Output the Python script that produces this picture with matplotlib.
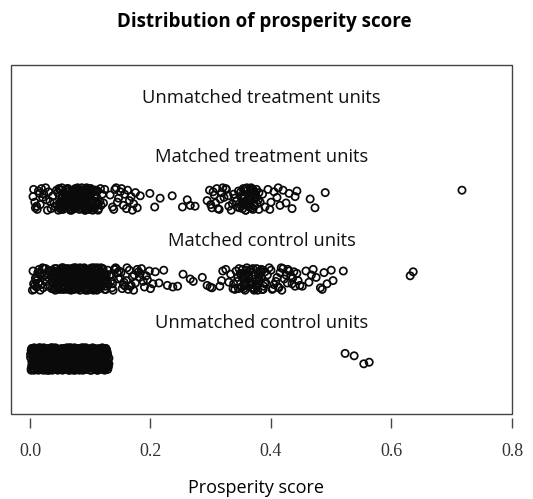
import numpy as np
import matplotlib
matplotlib.use('Agg')
from matplotlib import pyplot as plt
from matplotlib.patches import Rectangle

# ---- data: x in thousandths, vertical jitter in hundredths of a row ----
# row 1: unmatched control units
uc_x = [2, 5, 3, 6, 4, 2, 6, 3, 5,
        9, 7, 11, 8, 10, 12, 7, 9, 11,
        13, 16, 12, 15, 14, 17, 13, 15, 12,
        20, 18, 22, 19, 17, 21, 18, 20, 22,
        24, 22, 26, 23, 25, 27, 22, 24, 26,
        28, 31, 29, 27, 32, 30, 28, 31, 29,
        35, 33, 36, 34, 32, 37, 33, 35, 34,
        38, 41, 39, 37, 40, 42, 38, 40, 41,
        44, 42, 46, 43, 45, 47, 42, 44, 46,
        49, 47, 51, 48, 50, 52, 47, 49, 51,
        53, 56, 54, 52, 55, 57, 53, 55, 56,
        58, 61, 59, 57, 60, 62, 58, 60, 61,
        64, 62, 66, 63, 65, 67, 62, 64, 66,
        68, 71, 69, 67, 70, 72, 68, 70, 71,
        74, 72, 76, 73, 75, 77, 72, 74, 76,
        78, 81, 79, 77, 80, 82, 78, 80, 81,
        84, 82, 86, 83, 85, 87, 82, 84, 86,
        88, 91, 89, 87, 90, 92, 88, 90, 91,
        94, 92, 96, 93, 95, 97, 92, 94, 96,
        98, 101, 99, 97, 100, 102, 98, 100, 101,
        104, 102, 106, 103, 105, 107, 102, 104, 106,
        108, 111, 109, 107, 110, 112, 108, 110, 111,
        114, 112, 116, 113, 115, 117, 112, 114, 116,
        118, 121, 119, 117, 120, 122, 118, 120, 121,
        124, 122, 126, 123, 125, 127, 122, 124, 126,
        128, 131, 129, 127, 130, 126, 128, 131, 129,
        523, 538, 554, 563]
uc_j = [-12, 5, 13, -4, 9, -14, 1, -8, 11,
        7, -13, 2, 12, -6, -1, 14, -10, 4,
        -9, 13, -3, 6, -14, 10, 0, -7, 3,
        11, -5, -12, 3, 14, -9, 8, -1, -14,
        -2, 9, -11, 14, 4, -7, -13, 12, 1,
        6, -14, 10, -4, 13, 0, -9, 3, -12,
        -13, 4, 12, -8, -1, 11, -5, 14, 7,
        2, -10, 8, -14, 13, -3, 10, -7, 5,
        13, -6, -1, 9, -12, 5, 14, -10, -3,
        -8, 11, 3, -13, 7, -4, 12, 0, -11,
        10, -2, -14, 6, 1, 13, -9, -5, 8,
        -4, 14, -10, 2, -12, 9, 5, -7, 12,
        5, -12, 9, -3, 14, -8, 0, 11, -14,
        -11, 7, -6, 13, 3, -14, 10, -1, 6,
        12, -3, 4, -10, -13, 8, 1, 14, -7,
        -6, 10, -13, 0, 11, -9, 6, -4, 13,
        3, -8, 14, -12, 7, -1, -14, 9, -5,
        -14, 12, -4, 8, -9, 4, 13, -11, 1,
        9, -1, -11, 14, -6, 2, 11, -13, -4,
        -3, 13, 6, -9, -14, 10, -7, 4, 12,
        14, -11, 1, 7, -4, -13, 9, -2, 5,
        -10, 3, 11, -6, 12, -14, 0, 8, -8,
        4, -14, -7, 12, -2, 10, -11, 13, 2,
        -13, 8, -1, 5, 14, -5, -10, 11, 0,
        8, -9, 13, -12, 3, 6, -3, -14, 10,
        -5, 1, -13, 11, -10, 13, 7, -6, -1,
        7, 4, -6, -4]
# more units packed inside the solid black block
uc_x2 = [1, 4, 3, 2, 5, 1, 3, 4,
         6, 8, 7, 9, 6, 8, 10, 7,
         11, 13, 12, 14, 11, 13, 10, 12,
         16, 18, 17, 19, 16, 18, 15, 17,
         21, 23, 22, 24, 21, 23, 20, 22,
         26, 28, 27, 29, 26, 28, 25, 27,
         31, 33, 32, 34, 31, 33, 30, 32,
         36, 38, 37, 39, 36, 38, 35, 37,
         41, 43, 42, 44, 41, 43, 40, 42,
         46, 48, 47, 49, 46, 48, 45, 47,
         51, 53, 52, 54, 51, 53, 50, 52,
         56, 58, 57, 59, 56, 58, 55, 57,
         61, 63, 62, 64, 61, 63, 60, 62,
         66, 68, 67, 69, 66, 68, 65, 67,
         71, 73, 72, 74, 71, 73, 70, 72,
         76, 78, 77, 79, 76, 78, 75, 77,
         81, 83, 82, 84, 81, 83, 80, 82,
         86, 88, 87, 89, 86, 88, 85, 87,
         91, 93, 92, 94, 91, 93, 90, 92,
         96, 98, 97, 99, 96, 98, 95, 97,
         101, 103, 102, 104, 101, 103, 100, 102,
         106, 108, 107, 109, 106, 108, 105, 107,
         111, 113, 112, 114, 111, 113, 110, 112,
         116, 118, 117, 119, 116, 118, 115, 117,
         121, 123, 122, 124, 121, 123, 120, 122,
         126, 128, 127, 129, 126, 130, 125, 128]
uc_j2 = [6, -9, -3, 11, -12, 2, 13, -6,
         -4, 10, -14, 5, 12, -8, -1, 8,
         13, -2, 7, -10, 3, -13, 10, -6,
         -11, 6, -5, 12, 0, -8, 14, 3,
         2, -13, 11, -6, 8, -1, -10, 13,
         -7, 13, 0, -12, 5, 10, -3, -14,
         12, -5, -10, 7, -14, 3, 9, -1,
         -2, 8, 14, -11, 1, -6, 12, -9,
         9, -12, 4, -3, 13, -8, 0, 11,
         -14, 5, -7, 12, -2, 9, -11, 2,
         4, -10, 13, -5, -12, 7, 0, 10,
         -9, 2, -13, 11, 6, -4, 13, -7,
         11, -7, 3, -14, 9, 0, -11, 6,
         -5, 14, -9, 1, -13, 10, 4, -2,
         7, -4, 10, -8, 12, -12, -1, 3,
         -12, 9, -2, 13, -6, 5, -14, 11,
         1, -13, 8, -4, 10, -9, 13, -1,
         -8, 6, -12, 14, -3, 11, 2, -10,
         13, -6, 1, -11, 7, -2, -13, 9,
         -1, 12, -9, 4, -12, 8, 6, -5,
         10, -3, -14, 8, 2, -9, 12, -7,
         -6, 11, 5, -12, -1, 13, -8, 3,
         8, -11, 12, -2, -7, 4, -13, 10,
         -10, 2, -6, 13, 9, -12, 5, -3,
         3, -7, 10, -13, 0, 12, -4, 7,
         -12, 9, -3, 5, 12, -8, 1, -10]

# row 2: matched control units
mc_x = [5, 8, 12, 7, 15, 10, 19, 22, 14, 26, 9, 30, 17, 24, 33, 6, 21, 28, 36, 13,
        31, 11, 25, 35, 18, 4, 29, 23, 37, 16,
        39, 43, 41, 45, 38, 44, 40, 42, 46, 39, 44,
        47, 51, 49, 53, 46, 50, 52, 48, 54, 47, 51,
        55, 59, 57, 61, 54, 58, 60, 56, 62, 55, 59,
        63, 67, 65, 69, 62, 66, 68, 64, 70, 63, 68,
        71, 75, 73, 77, 70, 74, 76, 72, 78, 71, 76,
        79, 83, 81, 85, 78, 82, 84, 80, 86, 79, 83,
        87, 91, 89, 93, 86, 90, 92, 88, 94, 87, 91,
        95, 99, 97, 101, 94, 98, 100, 96, 102, 95, 99,
        103, 107, 105, 109, 102, 106, 108, 104, 110, 103, 107,
        111, 115, 113, 117, 110, 114, 116, 112, 118, 111, 115,
        119, 124, 121, 128, 118, 126, 122, 130, 120, 125, 129,
        132, 136, 140, 134, 145, 138, 150, 143, 155, 148, 160, 153, 135, 165, 158,
        170, 142, 175, 163, 180, 147, 168, 185, 173, 190, 156, 178, 195, 183, 200,
        137, 161, 188, 172, 198, 151, 182, 166, 193, 204,
        208, 214, 222, 237, 245, 254, 266, 271, 286, 294, 302, 315, 320, 325, 330,
        333, 337, 228, 299, 318,
        338, 342, 345, 340, 347, 344, 349, 351, 355, 353, 358, 361, 357, 364, 360,
        367, 363, 370, 366, 373, 369, 376, 372, 379, 375, 382, 378, 385, 381, 388,
        384, 391, 387, 394, 390, 397, 352, 368, 380, 359, 374, 386, 346, 356, 365,
        400, 405, 410, 403, 415, 408, 420, 412, 425, 418, 430, 422, 435, 428, 440,
        433, 445, 438, 402, 417, 427, 443, 413, 436, 448,
        452, 458, 463, 470, 475, 482, 488, 493, 500, 503, 467, 485,
        520, 631, 636]
mc_j = [10, -8, 3, -13, 12, -2, 7, -11, -5, 13, 1, -9, -14, 4, 9, -6, 14, -3, -12, 8,
        11, -10, -1, 5, -7, -14, 2, 13, -4, 6,
        -12, 6, 13, -3, 1, -8, 10, -14, 4, 8, -5,
        9, -11, 2, 14, -6, -1, 11, -13, 5, -9, 12,
        -4, 12, -13, 7, 3, -9, 0, 10, -7, 14, -11,
        13, -6, 5, -12, 9, 1, -14, -2, 11, -8, 6,
        -10, 3, 14, -5, -13, 8, -1, 12, -7, 6, 10,
        5, -14, -3, 11, 13, -8, 2, -11, 8, -5, 14,
        -7, 10, 1, -13, 6, 14, -4, -10, 12, 3, -1,
        12, -2, -11, 7, -6, 4, 13, -14, 0, 9, -8,
        -3, 13, 8, -9, 11, -13, 2, 6, -6, 14, -11,
        7, -12, -1, 4, -8, 12, -5, 14, 9, -14, 1,
        -9, 6, 12, -4, 14, -13, 2, -7, 9, -1, 11,
        4, -11, 12, -3, 8, -14, 1, 13, -7, 10, -2, -12, 6, 11, -9,
        3, 14, -5, -13, 9, 0, -8, 13, 5, -10, -4, 12, -1, 7, -12,
        -6, 14, -3, -14, 10, 8, 2, -9, 4, -6,
        9, -5, 11, -10, -9, 6, 0, -3, 2, -8, -11, -9, 10, 12, -4,
        6, -12, -8, -10, -2,
        -6, 10, 2, -13, 13, -3, 7, -10, 4, 12, -8, -1, -14, 9, 14,
        -5, 3, -11, 11, 0, -7, 13, -12, 6, -3, 10, -14, 1, 8, -9,
        12, -4, -13, 5, -6, 14, 2, -11, -2, 7, -8, 11, -12, 4, -7,
        11, -7, 2, -12, 8, -3, 13, -10, 5, -14, 10, 0, -6, 12, -9,
        4, -2, 9, -13, 14, -5, 7, -11, 1, -8,
        -9, 10, -4, 12, 2, -11, 8, -6, 11, -2, 5, -13,
        10, 4, 9]
# extra units in the two dark clusters of matched controls
mc_x2 = [41, 45, 49, 53, 57, 61, 65, 69, 73, 77, 81, 85, 89, 93, 97, 101, 105, 109,
         113, 117, 121, 125,
         43, 47, 51, 55, 59, 63, 67, 71, 75, 79, 83, 87, 91, 95, 99, 103, 107, 111,
         115, 119, 123, 127,
         40, 44, 48, 52, 56, 60, 64, 68, 72, 76, 80, 84, 88, 92, 96, 100, 104, 108,
         112, 116, 120, 124,
         42, 46, 50, 54, 58, 62, 66, 70, 74, 78, 82, 86, 90, 94, 98, 102, 106, 110,
         114, 118,
         350, 355, 360, 365, 370, 375, 380, 385, 390, 357, 367, 377, 352, 362, 372, 382]
mc_j2 = [0, -7, 11, -13, 4, 9, -4, 13, -10, 2, -12, 7, -1, 12, -8, 5, -14, 10,
         -5, 3, 13, -9,
         -11, 6, -2, 12, -9, -13, 8, -6, 11, -3, 5, 13, -12, -1, 9, -7, 14, 1,
         -10, 8, -4, 6,
         8, 13, -5, 3, -11, 1, 12, -8, 5, 14, -2, -10, 9, -14, 4, 11, -6, -12,
         10, -3, 7, -13,
         -3, -12, 7, -8, 13, -4, -10, 3, -13, 9, 1, -8, -6, 7, 12, -11, 2, -2,
         13, -7,
         6, -12, 11, -3, 13, -8, 2, -13, 9, -6, 12, -1, -10, 4, -14, 8]

# row 3: matched treatment units
mt_x = [5, 9, 14, 8, 19, 12, 23, 17, 27, 6, 31, 21, 35, 26, 40, 11, 38, 29, 44, 16,
        33, 42,
        46, 50, 48, 52, 45, 49, 51, 47, 53, 49,
        54, 58, 56, 60, 53, 57, 59, 55, 61, 56,
        62, 66, 64, 68, 61, 65, 67, 63, 69, 64,
        70, 74, 72, 76, 69, 73, 75, 71, 77, 72,
        78, 82, 80, 84, 77, 81, 83, 79, 85, 80,
        86, 90, 88, 92, 85, 89, 91, 87, 93, 88,
        94, 98, 96, 100, 93, 97, 99, 95, 101, 96,
        102, 106, 104, 109, 101, 105, 108, 103, 110, 107,
        112, 116, 114, 120, 111, 118, 124, 113, 122, 117,
        133, 137, 141, 145, 139, 150, 147, 155, 152, 160, 157, 165, 162, 170, 168,
        175, 172, 178, 143, 183,
        199, 216, 207, 236, 253, 261, 266, 274,
        294, 298, 302, 306, 310, 300, 314, 318, 322, 308, 326, 330, 316, 334, 338,
        320, 342, 346, 312, 329, 336, 304, 344, 325, 340,
        350, 353, 356, 359, 352, 362, 355, 365, 358, 368, 361, 371, 364, 374, 367,
        377, 370, 380, 373, 351, 376, 357, 363, 369, 379, 354, 366, 372, 360, 382,
        386, 390, 395, 400, 405, 398, 410, 415, 420, 412, 425, 430, 435, 440, 443,
        465, 473, 490, 717]
mt_j = [3, -11, 10, -4, 13, -13, 6, -7, -1, 12, 9, 2, -12, 14, -5, -9, 4, -14, 11, 7,
        -3, -10,
        8, -12, 13, -3, -8, 4, 11, -14, 1, -6,
        -10, 6, -1, 12, 14, -7, 2, -13, 9, -4,
        12, -5, 5, -12, 1, 9, -14, 13, -8, -2,
        -3, 11, -11, 7, -14, 3, 13, -7, 10, -1,
        6, -13, 12, -4, 9, -9, 0, 14, -6, 3,
        -12, 4, -6, 13, 10, -2, -14, 7, 2, -9,
        14, -8, 1, -11, 6, 11, -4, -13, 8, -1,
        -6, 9, -14, 3, 13, -10, 5, -2, 11, -12,
        10, -3, -12, 6, 2, -8, 12, -14, -5, 13,
        5, -10, 12, -4, -13, 9, 1, -8, 13, -12, 6, -2, 11, -14, 3,
        8, -6, -11, 14, 4,
        7, 1, -10, 4, -10, -1, -8, -9,
        -2, 11, -11, 5, 13, -7, -13, 8, 2, -5, 12, -9, 0, -14, 6,
        14, -3, 10, -12, 4, -6, 9, -10, 13, 1,
        9, -12, 3, 13, -5, -8, 12, 1, -14, 7, -2, 11, -10, 5, 14,
        -6, -13, 8, 2, -9, 12, -3, 6, -11, -1, 0, 10, -7, 14, -4,
        6, -10, 12, -4, 9, -13, 2, -8, 11, 14, -5, 7, -12, 3, 10,
        0, -11, 8, 11]
# extra units in the dark clusters of matched treatments
mt_x2 = [52, 56, 60, 64, 68, 72, 76, 80, 84, 88, 92, 96, 100, 104, 108, 112,
         54, 58, 62, 66, 70, 74, 78, 82, 86, 90, 94, 98, 102, 106, 110,
         50, 57, 63, 69, 75, 81, 87, 93, 99, 105,
         348, 352, 356, 360, 364, 368, 372, 376, 380, 354, 362, 370, 358, 366, 374]
mt_j2 = [-13, 8, -2, 12, -7, 4, -11, 13, -4, 9, -14, 1, 7, -9, 11, -5,
         5, -9, 13, -6, 10, -12, 2, -3, 14, -10, 6, -13, 11, 3, -7,
         12, -4, -10, 6, -1, -8, 11, -13, 13, -2,
         -11, 5, -7, 10, -2, 12, -9, 2, -13, 13, -5, 8, -14, 3, 7]

row_labels = ['Unmatched control units', 'Matched control units',
              'Matched treatment units', 'Unmatched treatment units']
label_y = [1.45, 2.475, 3.525, 4.26]
xticks = [0.0, 0.2, 0.4, 0.6, 0.8]

rows = [(1, uc_x + uc_x2, uc_j + uc_j2),
        (2, mc_x + mc_x2, mc_j + mc_j2),
        (3, mt_x + mt_x2, mt_j + mt_j2)]

# ---- plot ----
fig = plt.figure(figsize=(5.33, 4.99), dpi=100)
ax = fig.add_axes([11 / 533, 1 - 414 / 499, 501 / 533, 349 / 499])

for level, xs, js in rows:
    xs = np.array(xs) / 1000
    ys = level + np.array(js) / 100
    ax.scatter(xs, ys, s=27, facecolors='none', edgecolors='#0a0a0a',
               linewidths=1.25, zorder=3)

for lab, yy in zip(row_labels, label_y):
    ax.text(0.5, yy, lab, transform=ax.get_yaxis_transform(), ha='center',
            va='center', fontsize=13.2, family='Open Sans', color='#111111')

ax.set_xlim(-0.0315, 0.8)
ax.set_ylim(0.3125, 4.675)

for s in ax.spines.values():
    s.set_visible(False)
ax.spines['bottom'].set_position(('outward', 3))
ax.add_patch(Rectangle((0, 0), 1, 1, transform=ax.transAxes, fill=False,
                       ec='#444444', lw=1.0, clip_on=False))

ax.set_yticks([])
ax.set_xticks(xticks)
ax.set_xticklabels([f'{t:.1f}' for t in xticks], family='Liberation Serif',
                   fontsize=13, color='#333333')
ax.tick_params(axis='x', direction='out', length=7.2, width=1.0,
               color='#444444', pad=10.5)

fig.text(264 / 533, 1 - 22 / 499, 'Distribution of prosperity score',
         ha='center', va='center', fontsize=13.5, fontweight='bold',
         family='Open Sans')
fig.text(256 / 533, 1 - 488 / 499, 'Prosperity score', ha='center',
         va='center', fontsize=13, family='Open Sans')

fig.savefig('out.png', dpi=100)
